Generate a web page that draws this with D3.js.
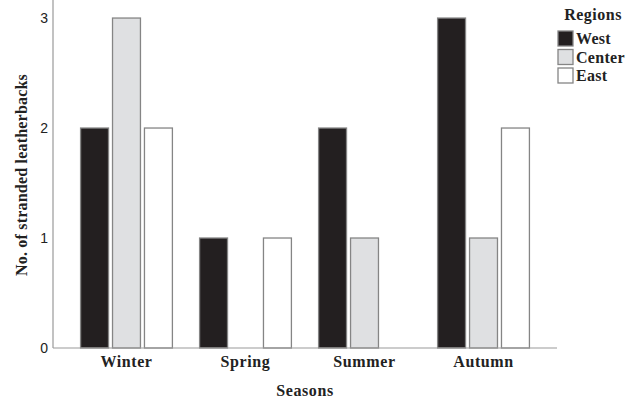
<!DOCTYPE html>
<html>
<head>
<meta charset="utf-8">
<script src="https://cdn.jsdelivr.net/npm/d3@7"></script>
<style>
  body { margin: 0; background: #fff; }
  .lbl { font-family: "Liberation Serif", "Times New Roman", serif; font-weight: bold; fill: #222; }
</style>
</head>
<body>
<svg id="chart" width="637" height="403"></svg>
<script>
var seasons = ["Winter", "Spring", "Summer", "Autumn"];
var regions = ["West", "Center", "East"];
var west = [2, 1, 2, 3];
var center = [3, 0, 1, 1];
var east = [2, 1, 0, 2];
var yTicks = [0, 1, 2, 3];
var colors = ["#231f20", "#dfe0e2", "#ffffff"];

var series = [west, center, east];

var svg = d3.select("#chart");

var x0 = d3.scaleBand()
    .domain(seasons)
    .range([53, 557])
    .paddingInner(0.22)
    .paddingOuter(0.2275);

var x1 = d3.scaleBand()
    .domain(regions)
    .range([0, x0.bandwidth()])
    .paddingInner(0.094);

var y = d3.scaleLinear()
    .domain([0, 3.164])
    .range([348, 0]);

// bars
var groups = svg.append("g")
  .selectAll("g")
    .data(seasons)
  .enter().append("g")
    .attr("transform", function(d) { return "translate(" + x0(d) + ",0)"; });

groups.selectAll("rect")
    .data(function(d, i) {
      return regions.map(function(r, j) { return { region: r, value: series[j][i], idx: j }; });
    })
  .enter().filter(function(d) { return d.value > 0; }).append("rect")
    .attr("x", function(d) { return x1(d.region) + 0.5; })
    .attr("y", function(d) { return y(d.value); })
    .attr("width", x1.bandwidth() - 1)
    .attr("height", function(d) { return y(0) - y(d.value); })
    .attr("fill", function(d) { return colors[d.idx]; })
    .attr("stroke", "#858585")
    .attr("stroke-width", 1.3);

// axes
svg.append("line")
    .attr("x1", 53).attr("x2", 53)
    .attr("y1", 0).attr("y2", y(0))
    .attr("stroke", "#999").attr("stroke-width", 1.2);

svg.append("line")
    .attr("x1", 53).attr("x2", 557)
    .attr("y1", y(0)).attr("y2", y(0))
    .attr("stroke", "#999").attr("stroke-width", 1.2);

svg.append("g")
  .selectAll("text")
    .data(yTicks)
  .enter().append("text")
    .attr("x", 48)
    .attr("y", function(d) { return y(d); })
    .attr("dy", "0.36em")
    .attr("text-anchor", "end")
    .attr("font-family", "Liberation Sans, Arial, sans-serif")
    .attr("font-size", 14)
    .attr("fill", "#222")
    .text(function(d) { return d; });

svg.append("g")
  .selectAll("text")
    .data(seasons)
  .enter().append("text")
    .attr("class", "lbl")
    .attr("x", function(d) { return x0(d) + x0.bandwidth() / 2; })
    .attr("y", 367)
    .attr("text-anchor", "middle")
    .attr("font-size", 16)
    .attr("letter-spacing", 0.6)
    .text(function(d) { return d; });

svg.append("text")
    .attr("class", "lbl")
    .attr("x", (53 + 557) / 2)
    .attr("y", 396)
    .attr("text-anchor", "middle")
    .attr("font-size", 16)
    .attr("letter-spacing", 0.6)
    .text("Seasons");

svg.append("text")
    .attr("class", "lbl")
    .attr("transform", "translate(27,175) rotate(-90)")
    .attr("text-anchor", "middle")
    .attr("font-size", 16)
    .attr("letter-spacing", 0.2)
    .text("No. of stranded leatherbacks");

// legend
var legend = svg.append("g");

legend.append("text")
    .attr("class", "lbl")
    .attr("x", 593)
    .attr("y", 20)
    .attr("text-anchor", "middle")
    .attr("font-size", 16)
    .attr("letter-spacing", 0.5)
    .text("Regions");

var item = legend.selectAll("g")
    .data(regions)
  .enter().append("g")
    .attr("transform", function(d, i) { return "translate(558," + (31 + i * 18.5) + ")"; });

item.append("rect")
    .attr("width", 15)
    .attr("height", 15)
    .attr("fill", function(d, i) { return colors[i]; })
    .attr("stroke", "#858585")
    .attr("stroke-width", 1.3);

item.append("text")
    .attr("class", "lbl")
    .attr("x", 18)
    .attr("y", 13)
    .attr("font-size", 16)
    .attr("letter-spacing", 0.3)
    .text(function(d) { return d; });
</script>
</body>
</html>
